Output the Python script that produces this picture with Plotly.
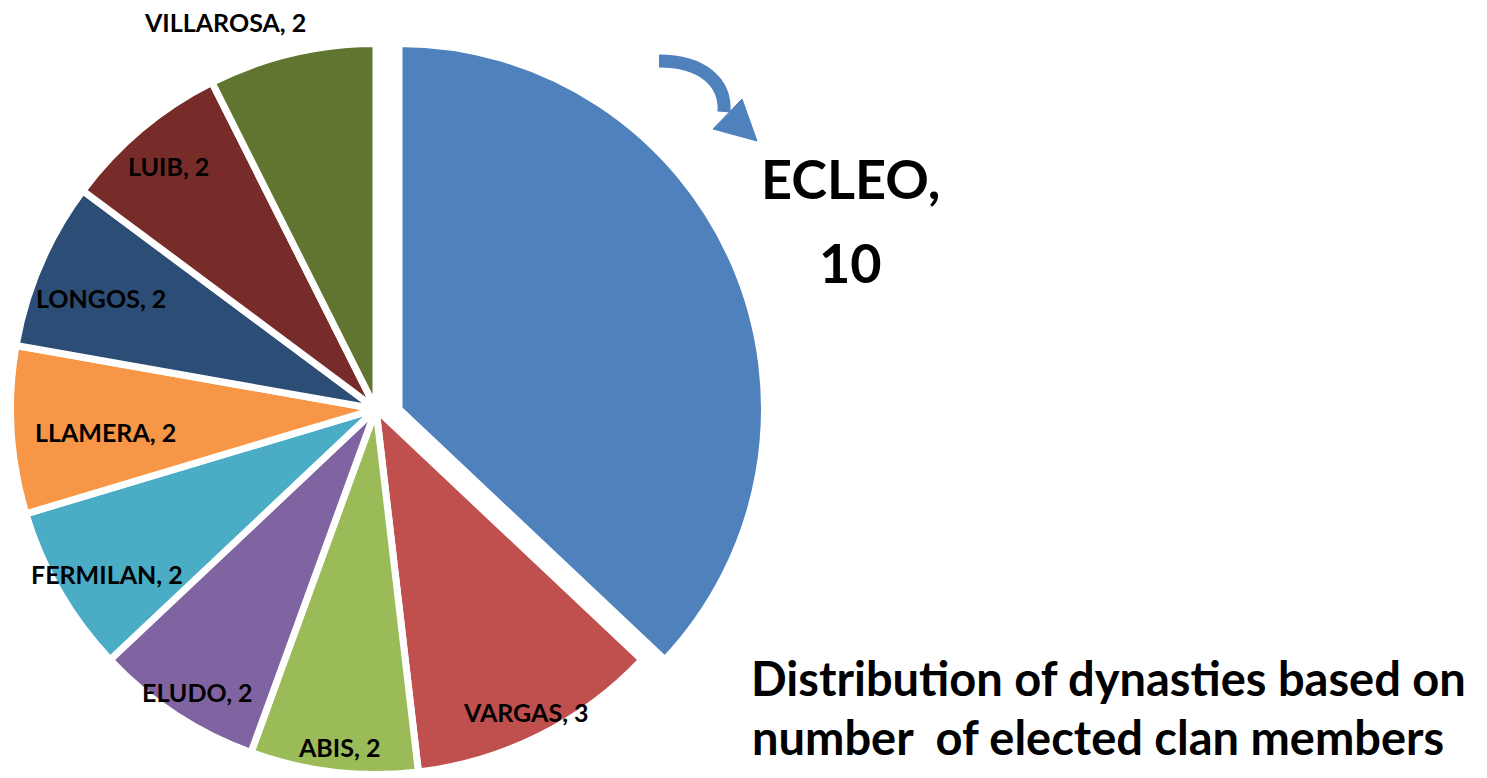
import plotly.graph_objects as go

# ---- data ----
names = ["ECLEO", "VARGAS", "ABIS", "ELUDO", "FERMILAN", "LLAMERA", "LONGOS", "LUIB", "VILLAROSA"]
values = [10, 3, 2, 2, 2, 2, 2, 2, 2]
colors = ["#4F81BD", "#C0504D", "#9BBB59", "#8064A2", "#4BACC6", "#F79646", "#2C4D75", "#772C2A", "#5F7530"]
title_lines = ["Distribution of dynasties based on", "number  of elected clan members"]

W, H = 1487, 778
TRANSP = "rgba(0,0,0,0)"
OFF = 8      # page body margin: screen = figure + OFF
TXT = 2      # caps centre sits ~2px below annotation centre

# pie geometry (screen pixels)
cx, cy, RV = 376, 409, 362
explode_dx = 23
LW = 7
R = RV + LW / 2


def dom(cx_, cy_, r_):
    cx_ -= OFF
    cy_ -= OFF
    return dict(x=[(cx_ - r_) / W, (cx_ + r_) / W], y=[(H - (cy_ + r_)) / H, (H - (cy_ - r_)) / H])


fig = go.Figure()

# main pie (exploded slice left transparent)
fig.add_trace(go.Pie(
    labels=names, values=values, sort=False, direction="clockwise", rotation=0,
    marker=dict(colors=[TRANSP] + colors[1:], line=dict(color="white", width=LW)),
    textinfo="none", hoverinfo="skip", showlegend=False,
    domain=dom(cx, cy, R),
))
# exploded ECLEO slice, shifted to the right
fig.add_trace(go.Pie(
    labels=names, values=values, sort=False, direction="clockwise", rotation=0,
    marker=dict(colors=[colors[0]] + [TRANSP] * (len(names) - 1),
                line=dict(color=["white"] + [TRANSP] * (len(names) - 1), width=LW)),
    textinfo="none", hoverinfo="skip", showlegend=False,
    domain=dom(cx + explode_dx, cy, R),
))

label_pos = {
    "VARGAS": (526, 714),
    "ABIS": (339, 749),
    "ELUDO": (197, 694),
    "FERMILAN": (107, 576),
    "LLAMERA": (105, 434),
    "LONGOS": (101, 300),
    "LUIB": (168, 168),
    "VILLAROSA": (225, 24),
}


def add_text(txt, px, py, size):
    fx = px - OFF
    fy = py - OFF - TXT
    return dict(text=txt, x=fx / W, y=1 - fy / H, xref="paper", yref="paper",
                showarrow=False, xanchor="center", yanchor="middle", align="center",
                font=dict(family="Lato", size=size, color="black", weight="bold"))


ann = []
for n, v in zip(names, values):
    if n == "ECLEO":
        ann.append(add_text(f"{n},", 851, 180, 54))
        ann.append(add_text(f"{v}", 851, 264, 54))
    else:
        px, py = label_pos[n]
        ann.append(add_text(f"{n}, {v}", px, py, 25))

ann.append(add_text(title_lines[0], 1108, 680, 47))
ann.append(add_text(title_lines[1], 1098, 739, 47))


def p(x, y):
    return f"{(x - OFF) / W:.5f},{1 - (y - OFF) / H:.5f}"


shapes = [
    dict(type="path", xref="paper", yref="paper",
         path=f"M{p(659, 61)} C{p(702, 61)} {p(726, 82)} {p(724, 112)}",
         line=dict(color="#4F81BD", width=13), fillcolor=TRANSP),
    dict(type="path", xref="paper", yref="paper",
         path=f"M{p(713, 129)} L{p(742, 99)} L{p(757, 141)} Z",
         line=dict(color="#4F81BD", width=1), fillcolor="#4F81BD"),
]

fig.update_layout(
    width=W, height=H,
    margin=dict(l=0, r=0, t=0, b=0),
    paper_bgcolor="white", plot_bgcolor="white",
    annotations=ann, shapes=shapes,
)

fig.write_html("out.html")
